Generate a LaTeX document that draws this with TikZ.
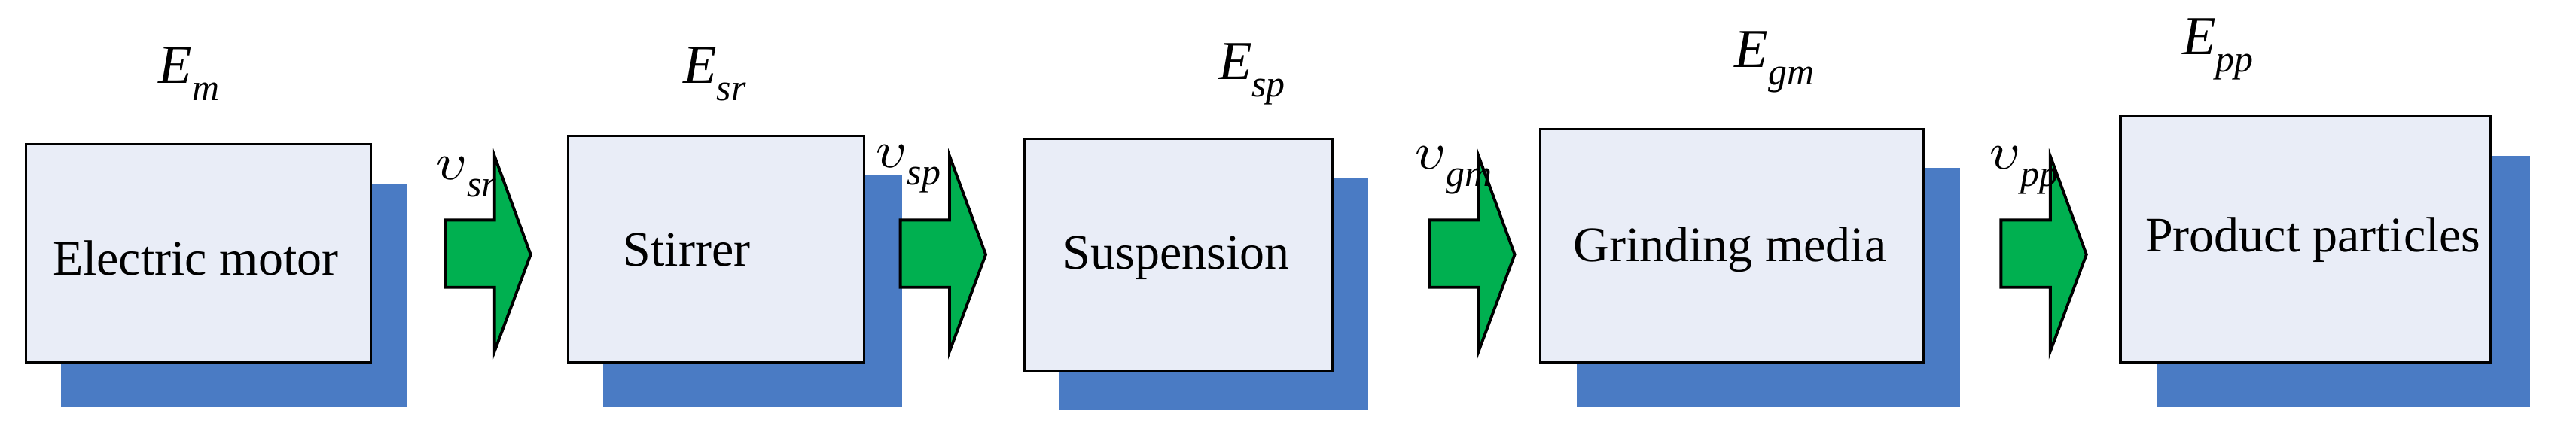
\documentclass[tikz,border=0pt]{standalone}
\usepackage{fontspec}
\setmainfont{Liberation Serif}
\newcommand{\lbl}[3]{\textit{#1}\raisebox{-#3}{\fontsize{6.5}{7}\selectfont\textit{#2}}}
\begin{document}
\begin{tikzpicture}[x=0.01cm,y=-0.01cm,
  box/.style={draw=black,line width=0.4pt,fill=boxc,inner sep=0pt},
  shadow/.style={fill=shc,draw=none},
  arr/.style={draw=black,line width=0.5pt,fill=arrc},
  lab/.style={font=\fontsize{9.5}{10}\selectfont},
  txt/.style={font=\fontsize{8.6}{10}\selectfont}]
\definecolor{boxc}{HTML}{E9EDF7}
\definecolor{shc}{HTML}{4A7BC4}
\definecolor{arrc}{HTML}{00B050}
\useasboundingbox (0,0) rectangle (1568,263);
\newcommand{\myarrow}[2]{%
  \draw[arr] (#1,134) -- (#1+30,134) -- (#1+30,95) -- (#1+52,155) -- (#1+30,214) -- (#1+30,175) -- (#1,175) -- cycle;
  \coordinate (#2) at (#1,155);}
\fill[shadow] (37,112) rectangle (248,248);
\node[box,minimum width=2.1cm,minimum height=1.33cm,anchor=north west] (b1) at (15,87) {};
\node[txt] (t1) at (119,157) {Electric motor};
\fill[shadow] (367,107) rectangle (549,248);
\node[box,minimum width=1.8cm,minimum height=1.38cm,anchor=north west] (b2) at (345,82) {};
\node[txt] (t2) at (418,152) {Stirrer};
\fill[shadow] (645,108) rectangle (833,250);
\node[box,minimum width=1.87cm,minimum height=1.41cm,anchor=north west] (b3) at (623,84) {};
\node[txt] (t3) at (716,157) {Suspension};
\fill[shadow] (960,102) rectangle (1193,248);
\node[box,minimum width=2.33cm,minimum height=1.42cm,anchor=north west] (b4) at (937,78) {};
\node[txt] (t4) at (1053,152) {Grinding media};
\fill[shadow] (1313,95) rectangle (1540,248);
\node[box,minimum width=2.25cm,minimum height=1.5cm,anchor=north west] (b5) at (1290,70) {};
\node[txt] (t5) at (1408,146) {Product particles};
\node[lab] (e1) at (115,45) {\lbl{E}{m}{3pt}};
\node[lab] (e2) at (435,45) {\lbl{E}{sr}{3pt}};
\node[lab] (e3) at (762,45) {\lbl{E}{sp}{3pt}};
\node[lab] (e4) at (1080,38) {\lbl{E}{gm}{3pt}};
\node[lab] (e5) at (1350,30) {\lbl{E}{pp}{3pt}};
\myarrow{271}{a1}
\myarrow{548}{a2}
\myarrow{870}{a3}
\myarrow{1218}{a4}
\node[lab] (v1) at (284,108) {$\upsilon$\raisebox{-3pt}{\fontsize{6.5}{7}\selectfont\textit{sr}}};
\node[lab] (v2) at (553,103) {$\upsilon$\raisebox{-3pt}{\fontsize{6.5}{7}\selectfont\textit{sp}}};
\node[lab] (v3) at (885,104) {$\upsilon$\raisebox{-3pt}{\fontsize{6.5}{7}\selectfont\textit{gm}}};
\node[lab] (v4) at (1232,104) {$\upsilon$\raisebox{-3pt}{\fontsize{6.5}{7}\selectfont\textit{pp}}};
\end{tikzpicture}
\end{document}
